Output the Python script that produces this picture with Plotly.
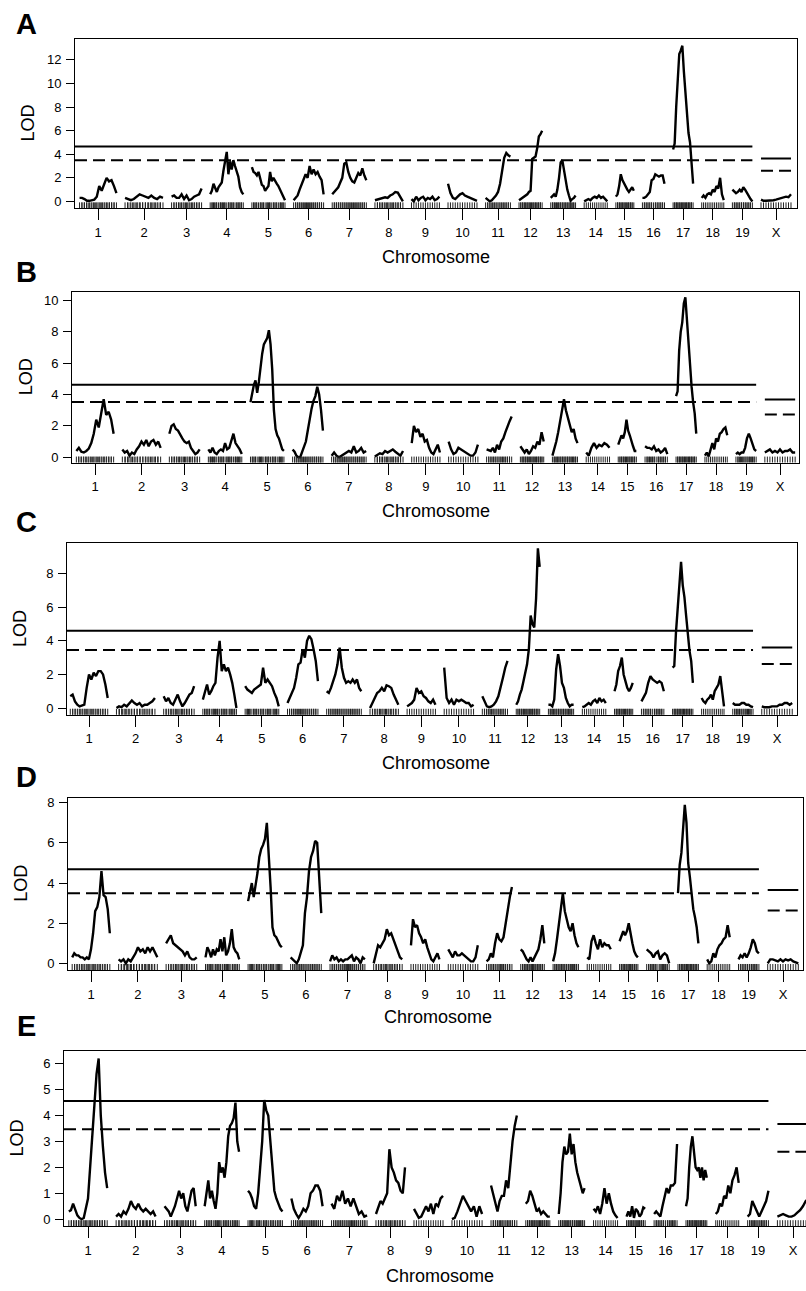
import plotly.graph_objects as go

# ---------------- data ----------------
chrom_names = ["1", "2", "3", "4", "5", "6", "7", "8", "9", "10",
               "11", "12", "13", "14", "15", "16", "17", "18", "19", "X"]
chrom_len_cM = [107, 110, 87, 96, 96, 87, 99, 81, 81, 84,
                72, 67, 72, 67, 52, 64, 58, 64, 58, 87]
gap_cM = 25

# LOD values, evenly spaced along each chromosome (one list per chromosome)
lod_A = [
    [0.3, 0.3, 0.2, 0.05, 0.05, 0.1, 0.15, 0.4, 1.3, 0.9, 1.5, 2.0, 1.7, 1.8, 1.3, 0.7],
    [0.3, 0.2, 0.1, 0.2, 0.4, 0.6, 0.5, 0.4, 0.3, 0.5, 0.3, 0.2, 0.4, 0.3],
    [0.4, 0.5, 0.3, 0.3, 0.6, 0.2, 0.5, 0.1, 0.2, 0.4, 0.5, 0.6, 1.1],
    [0.6, 0.9, 1.5, 1.2, 0.8, 1.2, 1.4, 1.6, 2.6, 3.3, 4.2, 2.3, 3.4, 2.7, 3.5, 3.0, 2.6, 2.1, 1.2, 0.8, 0.6],
    [2.9, 2.5, 2.4, 2.2, 2.5, 1.9, 1.4, 1.3, 0.9, 1.1, 1.3, 2.5, 1.7, 2.0, 1.7, 1.5, 1.3, 1.0, 0.6, 0.3, 0.1],
    [0.1, 0.3, 0.5, 1.0, 1.4, 1.8, 2.3, 2.0, 3.0, 2.3, 2.7, 2.3, 2.5, 2.1, 1.8, 0.6],
    [0.6, 0.8, 1.0, 1.2, 1.6, 2.0, 3.2, 3.3, 2.5, 2.0, 1.7, 1.6, 2.0, 2.4, 2.2, 2.8, 2.2, 1.8],
    [0.1, 0.15, 0.2, 0.3, 0.35, 0.3, 0.5, 0.6, 0.8, 0.75, 0.4, 0.0],
    [0.2, 0.0, 0.4, 0.1, 0.3, 0.4, 0.1, 0.3, 0.2, 0.4, 0.1, 0.2, 0.4],
    [1.5, 0.7, 0.3, 0.2, 0.4, 0.6, 0.7, 0.5, 0.4, 0.3, 0.2, 0.1, 0.05],
    [0.3, 0.15, 0.0, 0.1, 0.3, 0.5, 0.8, 1.5, 2.6, 3.7, 4.1, 3.9, 3.8],
    [0.1, 0.2, 0.3, 0.45, 0.5, 0.6, 0.8, 0.9, 3.6, 3.7, 3.8, 4.5, 5.5, 5.7, 6.0],
    [0.3, 0.5, 0.6, 0.4, 1.0, 2.0, 3.3, 3.5, 2.6, 1.5, 1.0, 0.5, 0.05, 0.2, 0.3, 0.5],
    [0.0, 0.1, 0.2, 0.1, 0.3, 0.4, 0.3, 0.5, 0.3, 0.4, 0.2, 0.0],
    [0.4, 0.6, 1.3, 2.3, 1.8, 1.5, 1.2, 1.0, 0.8, 1.0, 1.2, 0.9],
    [0.3, 0.3, 0.4, 0.6, 0.8, 1.8, 1.9, 2.3, 2.2, 2.1, 2.2, 2.2, 1.5],
    [4.4, 4.9, 8.0, 10.5, 12.5, 12.8, 13.2, 11.0, 9.0, 7.2, 5.8, 5.0, 3.5, 1.5],
    [0.3, 0.5, 0.3, 0.6, 0.7, 0.6, 1.0, 0.8, 1.3, 1.1, 2.0, 0.6, 0.1],
    [1.0, 0.8, 0.7, 0.8, 1.0, 0.8, 1.2, 1.0, 0.7, 0.4, 0.2, 0.0],
    [0.15, 0.05, 0.05, 0.05, 0.1, 0.1, 0.15, 0.2, 0.25, 0.3, 0.4, 0.35, 0.6],
]
lod_B = [
    [0.4, 0.6, 0.35, 0.3, 0.4, 0.55, 0.9, 1.5, 2.4, 1.9, 2.8, 3.7, 2.7, 2.9, 2.4, 1.5],
    [0.5, 0.3, 0.4, 0.1, 0.3, 0.2, 0.5, 0.7, 1.0, 0.8, 1.1, 0.7, 1.0, 1.1, 0.8, 1.0, 0.6],
    [1.5, 2.0, 2.1, 1.8, 1.7, 1.4, 1.2, 1.0, 0.9, 1.0, 0.6, 0.4, 0.2, 0.3, 0.5],
    [0.5, 0.3, 0.6, 0.3, 0.2, 0.4, 0.5, 0.4, 0.9, 0.5, 0.6, 1.0, 1.5, 0.9, 0.7, 0.5, 0.2],
    [3.5, 4.2, 4.6, 4.9, 4.1, 4.8, 5.8, 6.6, 7.2, 7.4, 7.6, 8.1, 7.2, 5.6, 3.0, 1.8, 1.4, 1.2, 0.8, 0.5, 0.4],
    [0.5, 0.35, 0.1, 0.0, 0.0, 0.3, 0.6, 1.0, 1.7, 2.5, 3.1, 3.6, 3.9, 4.5, 4.0, 3.0, 1.7],
    [0.1, 0.3, 0.1, 0.0, 0.1, 0.2, 0.3, 0.4, 0.3, 0.7, 0.3, 0.4, 0.6, 0.3, 0.4],
    [0.05, 0.15, 0.25, 0.2, 0.4, 0.3, 0.4, 0.5, 0.35, 0.2, 0.1, 0.4],
    [0.9, 2.0, 1.6, 1.8, 1.3, 1.5, 1.0, 1.1, 0.6, 0.3, 0.2, 0.5, 0.8, 0.3],
    [1.0, 0.5, 0.2, 0.3, 0.6, 0.5, 0.4, 0.3, 0.2, 0.1, 0.1, 0.3, 0.8],
    [0.5, 0.45, 0.4, 0.6, 0.3, 0.8, 0.5, 1.0, 1.2, 1.6, 2.0, 2.3, 2.6],
    [0.7, 0.5, 0.3, 0.5, 0.2, 0.4, 0.7, 0.6, 1.0, 0.8, 1.6, 1.0],
    [0.1, 0.5, 1.0, 1.6, 2.3, 3.0, 3.7, 3.0, 2.5, 2.0, 1.6, 1.8, 1.2, 0.9],
    [0.3, 0.1, 0.6, 0.9, 0.6, 0.8, 0.7, 0.9, 0.8, 0.6],
    [0.8, 1.1, 1.4, 1.2, 1.6, 2.4, 1.7, 1.4, 1.0, 0.7, 0.4, 0.4],
    [0.7, 0.6, 0.6, 0.5, 0.7, 0.4, 0.5, 0.3, 0.4, 0.6, 0.2],
    [3.9, 4.2, 6.8, 8.0, 8.6, 9.8, 10.2, 8.6, 7.3, 6.0, 4.5, 3.5, 2.8, 1.5],
    [0.1, 0.3, 0.05, 0.5, 0.9, 0.5, 1.2, 1.0, 1.5, 1.6, 1.8, 1.9, 1.4],
    [0.2, 0.3, 0.2, 0.3, 0.3, 0.6, 1.2, 1.5, 1.2, 0.8, 0.5, 0.4],
    [0.3, 0.4, 0.5, 0.3, 0.4, 0.3, 0.5, 0.3, 0.4, 0.4, 0.5, 0.3, 0.3],
]
lod_C = [
    [0.7, 0.8, 0.4, 0.2, 0.1, 0.15, 0.2, 1.2, 2.0, 1.7, 2.1, 1.9, 2.2, 2.2, 2.0, 1.4, 0.6],
    [0.0, 0.1, 0.05, 0.2, 0.1, 0.3, 0.45, 0.3, 0.2, 0.3, 0.1, 0.2, 0.2, 0.3, 0.4, 0.6],
    [0.7, 0.4, 0.6, 0.3, 0.2, 0.5, 0.8, 0.4, 0.1, 0.3, 0.6, 0.8, 0.9, 1.3],
    [0.5, 1.0, 1.4, 0.8, 1.0, 1.3, 1.5, 3.0, 4.0, 2.2, 2.6, 2.2, 2.4, 2.0, 1.5, 0.8, 0.0],
    [1.3, 1.1, 1.0, 0.9, 1.1, 1.2, 1.3, 1.4, 2.4, 1.5, 1.7, 1.5, 1.3, 0.9, 0.6, 0.1],
    [0.3, 0.6, 0.8, 1.2, 1.8, 2.6, 2.7, 3.5, 3.0, 4.0, 4.3, 4.1, 3.5, 2.8, 1.6],
    [1.0, 0.9, 1.2, 1.6, 2.0, 2.6, 3.6, 2.4, 1.8, 1.5, 1.6, 1.5, 1.7, 1.5, 1.7, 1.2, 1.0],
    [0.0, 0.3, 0.6, 0.9, 1.0, 1.2, 1.0, 1.35, 1.3, 1.2, 0.8, 0.5, 0.2],
    [0.1, 0.2, 0.3, 0.5, 1.2, 0.9, 1.0, 0.7, 0.6, 0.4, 0.3, 0.5, 0.2],
    [2.4, 0.6, 0.3, 0.5, 0.2, 0.5, 0.4, 0.5, 0.4, 0.3, 0.3, 0.1, 0.2],
    [0.7, 0.4, 0.1, 0.05, 0.1, 0.2, 0.4, 0.7, 1.2, 1.8, 2.4, 2.8],
    [0.2, 0.4, 0.8, 1.1, 1.6, 2.2, 2.6, 3.5, 5.5, 5.0, 4.8, 6.5, 9.5, 8.4],
    [0.2, 0.2, 0.1, 0.5, 2.3, 3.2, 2.5, 1.5, 1.2, 0.6, 0.3, 0.1, 0.2, 0.2],
    [0.05, 0.1, 0.2, 0.3, 0.2, 0.4, 0.5, 0.3, 0.6, 0.4, 0.5, 0.3],
    [1.0, 1.4, 2.2, 2.5, 3.0, 2.0, 1.6, 1.2, 1.0, 1.2, 1.5],
    [0.4, 0.7, 0.9, 1.5, 1.9, 1.7, 1.6, 1.5, 1.6, 1.5, 1.0],
    [2.4, 2.5, 4.5, 6.0, 7.0, 8.7, 7.3, 6.6, 5.5, 4.3, 3.4, 2.8, 1.5],
    [0.6, 0.4, 0.3, 0.5, 0.6, 0.8, 0.5, 1.0, 1.2, 1.4, 1.9, 0.8, 0.1],
    [0.3, 0.2, 0.2, 0.2, 0.3, 0.3, 0.2, 0.2, 0.1, 0.05],
    [0.1, 0.05, 0.05, 0.05, 0.1, 0.1, 0.1, 0.2, 0.2, 0.3, 0.3, 0.2, 0.3],
]
lod_D = [
    [0.3, 0.5, 0.4, 0.4, 0.3, 0.3, 0.2, 0.3, 0.2, 0.7, 1.5, 2.6, 2.8, 3.3, 4.6, 3.4, 3.3, 2.7, 1.5],
    [0.2, 0.1, 0.2, 0.0, 0.2, 0.1, 0.3, 0.5, 0.8, 0.6, 0.7, 0.5, 0.8, 0.6, 0.8, 0.5, 0.3],
    [1.0, 1.2, 1.4, 1.0, 0.9, 0.8, 0.7, 0.6, 0.4, 0.6, 0.3, 0.2, 0.2, 0.3],
    [0.3, 0.8, 0.6, 0.3, 0.7, 0.4, 0.7, 0.6, 1.2, 0.6, 1.3, 0.4, 0.6, 1.0, 1.7, 0.8, 0.6, 0.5, 0.2],
    [3.1, 3.5, 4.0, 3.3, 3.8, 4.5, 5.3, 5.7, 5.9, 6.2, 7.0, 5.5, 3.8, 1.8, 1.4, 1.3, 1.1, 0.9, 0.8],
    [0.3, 0.2, 0.1, 0.0, 0.2, 0.6, 0.9, 2.5, 3.3, 4.6, 5.3, 5.6, 6.1, 6.0, 4.5, 2.5],
    [0.1, 0.4, 0.2, 0.3, 0.1, 0.2, 0.1, 0.2, 0.2, 0.3, 0.4, 0.1, 0.3, 0.2, 0.0, 0.3, 0.2],
    [0.0, 0.5, 0.9, 0.8, 1.0, 1.2, 1.7, 1.4, 1.5, 1.2, 0.9, 0.5, 0.3, 0.2],
    [0.9, 2.2, 1.8, 1.9, 1.5, 1.3, 1.0, 1.2, 0.8, 0.5, 0.2, 0.1, 0.3, 0.5, 0.2],
    [0.7, 0.5, 0.3, 0.6, 0.4, 0.4, 0.5, 0.4, 0.3, 0.2, 0.1, 0.1, 0.3, 0.9],
    [0.1, 0.2, 0.5, 0.3, 1.0, 1.5, 1.2, 1.1, 1.3, 2.0, 2.8, 3.3, 3.8],
    [0.7, 0.6, 0.4, 0.2, 0.1, 0.3, 0.1, 0.3, 0.5, 0.7, 1.2, 1.9, 1.0],
    [0.1, 0.5, 1.2, 2.0, 2.6, 3.5, 2.6, 2.2, 1.8, 1.6, 2.0, 1.4, 1.0, 0.8],
    [0.3, 0.2, 1.1, 1.4, 1.0, 0.7, 1.2, 0.8, 1.0, 0.9, 0.9, 0.7],
    [1.1, 1.4, 1.6, 1.4, 1.6, 2.0, 1.4, 1.0, 0.6, 0.4, 0.3],
    [0.7, 0.6, 0.5, 0.3, 0.5, 0.6, 0.2, 0.4, 0.5, 0.4, 0.0],
    [3.5, 4.9, 5.5, 6.5, 7.9, 7.0, 5.0, 4.3, 3.5, 2.7, 2.3, 1.8, 1.0],
    [0.2, 0.0, 0.1, 0.5, 0.3, 0.7, 0.9, 1.0, 1.2, 1.3, 1.9, 1.3],
    [0.2, 0.4, 0.3, 0.5, 0.3, 0.5, 0.8, 1.2, 1.0, 0.6, 0.5],
    [0.0, 0.2, 0.2, 0.15, 0.1, 0.2, 0.1, 0.2, 0.15, 0.2, 0.1, 0.05, 0.0],
]
lod_E = [
    [0.3, 0.35, 0.6, 0.4, 0.15, 0.05, 0.0, 0.05, 0.5, 0.8, 2.0, 3.2, 4.3, 5.6, 6.2, 4.0, 2.8, 1.8, 1.2],
    [0.1, 0.2, 0.1, 0.3, 0.2, 0.4, 0.7, 0.5, 0.4, 0.6, 0.4, 0.3, 0.4, 0.3, 0.2, 0.3, 0.1],
    [0.5, 0.4, 0.3, 0.1, 0.3, 0.5, 0.8, 1.1, 0.8, 1.0, 0.5, 0.3, 0.7, 1.1, 1.2, 0.5],
    [0.5, 1.0, 1.5, 0.8, 1.1, 0.7, 0.4, 1.0, 2.2, 1.8, 2.0, 1.6, 2.2, 3.2, 3.6, 3.7, 3.9, 4.5, 3.0, 2.6],
    [1.1, 1.0, 0.8, 0.5, 0.4, 1.0, 2.0, 3.0, 4.6, 4.2, 4.0, 3.0, 2.0, 1.1, 0.8, 0.6, 0.4, 0.3],
    [0.8, 0.4, 0.2, 0.05, 0.2, 0.4, 0.3, 0.5, 1.0, 1.1, 1.3, 1.3, 1.1, 0.5],
    [0.6, 0.4, 0.9, 0.7, 1.1, 0.6, 0.8, 0.5, 0.8, 0.5, 0.2, 0.3, 0.1, 0.15],
    [0.2, 0.5, 0.7, 0.6, 0.8, 1.0, 2.7, 2.0, 1.8, 1.5, 1.4, 1.1, 1.0, 2.0],
    [0.4, 0.2, 0.05, 0.1, 0.3, 0.5, 0.3, 0.6, 0.2, 0.6, 0.5, 0.8, 0.9],
    [0.0, 0.05, 0.3, 0.6, 0.9, 0.7, 0.5, 0.3, 0.5, 0.1, 0.5, 0.2],
    [1.3, 1.0, 0.7, 0.3, 0.7, 0.9, 0.9, 1.5, 1.2, 2.2, 3.0, 3.6, 4.0],
    [0.6, 0.7, 1.1, 0.9, 0.6, 0.3, 0.4, 0.2, 0.3, 0.2, 0.1, 0.1],
    [0.2, 1.0, 2.2, 2.8, 2.5, 2.6, 3.3, 2.5, 2.9, 2.2, 1.8, 1.5, 1.3, 1.0, 1.2],
    [0.4, 0.3, 0.5, 0.2, 0.6, 1.2, 0.6, 1.0, 0.6, 0.3, 0.15, 0.05],
    [0.1, 0.3, 0.1, 0.5, 0.05, 0.4, 0.3, 0.1, 0.2, 0.45, 0.4],
    [0.2, 0.3, 0.2, 0.1, 0.5, 0.8, 1.2, 1.0, 1.3, 1.3, 1.4, 2.9],
    [0.5, 0.8, 2.0, 2.8, 3.2, 2.5, 2.0, 1.9, 2.0, 1.6, 2.0, 1.5, 1.9, 1.6],
    [0.2, 0.3, 0.6, 0.5, 0.9, 0.8, 1.3, 1.0, 1.5, 1.7, 2.0, 1.4],
    [0.1, 0.2, 0.7, 0.5, 0.3, 0.1, 0.3, 0.5, 0.7, 1.1],
    [0.1, 0.15, 0.2, 0.15, 0.1, 0.1, 0.15, 0.25, 0.35, 0.5, 0.7, 0.8],
]

panel_labels = ["A", "B", "C", "D", "E"]
thr_auto_solid = [4.65, 4.63, 4.6, 4.69, 4.56]
thr_auto_dash = [3.5, 3.53, 3.46, 3.49, 3.47]
thr_x_solid = [3.63, 3.68, 3.61, 3.66, 3.67]
thr_x_dash = [2.6, 2.72, 2.62, 2.63, 2.6]
y_ticks = [[0, 2, 4, 6, 8, 10, 12], [0, 2, 4, 6, 8, 10], [0, 2, 4, 6, 8],
           [0, 2, 4, 6, 8], [0, 1, 2, 3, 4, 5, 6]]
y_ranges = [(-0.59, 13.78), (-0.34, 10.53), (-0.40, 9.80), (-0.33, 8.26), (-0.27, 6.50)]

# ---------------- layout geometry (pixels) ----------------
W, H = 806, 1291
# left, right(visible), top, bottom, chr1 tick px, chrX tick px
geom = [
    (75, 797, 37, 207, 98, 776),
    (72, 799, 291, 462, 95, 780),
    (67, 797, 543, 715, 89, 777),
    (68, 803, 798, 971, 91, 783),
    (64, 806, 1052, 1228, 88, 793),
]
letter_pos = [(27, 22), (27, 271), (27, 522), (27, 777), (26, 1027)]
lod_title_x = [28, 26, 20, 21, 17]
chrom_title_y = [256, 511, 763, 1018, 1278]
chrom_title_x = [436, 436, 436, 438, 440]

FONT = "Liberation Sans, Arial, Helvetica, sans-serif"

starts = []
s = 0.0
for L in chrom_len_cM:
    starts.append(s)
    s += L + gap_cM
mids = [st + L / 2 for st, L in zip(starts, chrom_len_cM)]

all_lods = [lod_A, lod_B, lod_C, lod_D, lod_E]

# marker rug: union of scan positions of two scans
rug_x = []
for c in range(len(chrom_names)):
    pos = set()
    for lods in (lod_A, lod_C):
        n = len(lods[c])
        for k in range(n):
            pos.add(round(starts[c] + chrom_len_cM[c] * k / (n - 1), 1))
    rug_x.extend(sorted(pos))

fig = go.Figure()
annotations = []
layout_axes = {}

for i, lods in enumerate(all_lods):
    n = i + 1
    xa = "x" if n == 1 else f"x{n}"
    ya = "y" if n == 1 else f"y{n}"
    left, right, top, bottom, t1, tX = geom[i]
    scale = (tX - t1) / (mids[-1] - mids[0])
    x0 = mids[0] - (t1 - left) / scale
    x1 = mids[0] + (right - t1) / scale
    y0, y1 = y_ranges[i]
    ppu = (bottom - top) / (y1 - y0)

    # LOD curves
    xs, ys = [], []
    for c, vals in enumerate(lods):
        m = len(vals)
        for k, v in enumerate(vals):
            xs.append(starts[c] + chrom_len_cM[c] * k / (m - 1))
            ys.append(v)
        xs.append(None)
        ys.append(None)
    fig.add_trace(go.Scatter(x=xs, y=ys, mode="lines", xaxis=xa, yaxis=ya,
                             line=dict(color="black", width=2.4), hoverinfo="skip"))

    # thresholds
    end19 = starts[18] + chrom_len_cM[18]
    xs_x = [starts[19], starts[19] + chrom_len_cM[19]]
    fig.add_trace(go.Scatter(x=[x0, end19], y=[thr_auto_solid[i]] * 2, mode="lines",
                             xaxis=xa, yaxis=ya, line=dict(color="black", width=2)))
    fig.add_trace(go.Scatter(x=[x0, end19], y=[thr_auto_dash[i]] * 2, mode="lines",
                             xaxis=xa, yaxis=ya,
                             line=dict(color="black", width=2, dash="12px,6px")))
    fig.add_trace(go.Scatter(x=xs_x, y=[thr_x_solid[i]] * 2, mode="lines",
                             xaxis=xa, yaxis=ya, line=dict(color="black", width=2)))
    fig.add_trace(go.Scatter(x=xs_x, y=[thr_x_dash[i]] * 2, mode="lines",
                             xaxis=xa, yaxis=ya,
                             line=dict(color="black", width=2, dash="12px,6px")))

    # rug
    rug_y = y0 + 2.5 / ppu
    fig.add_trace(go.Scatter(x=rug_x, y=[rug_y] * len(rug_x), mode="markers",
                             xaxis=xa, yaxis=ya,
                             marker=dict(symbol="line-ns", size=5,
                                         line=dict(color="#222222", width=1))))

    layout_axes["xaxis" if n == 1 else f"xaxis{n}"] = dict(
        domain=[left / W, right / W], range=[x0, x1], anchor=ya,
        showline=True, linecolor="black", linewidth=1, mirror=True,
        ticks="outside", ticklen=11, tickwidth=1, tickcolor="black",
        tickvals=mids, ticktext=chrom_names, showgrid=False, zeroline=False,
        tickfont=dict(family=FONT, size=13, color="black"), ticklabelstandoff=1)
    layout_axes["yaxis" if n == 1 else f"yaxis{n}"] = dict(
        domain=[1 - bottom / H, 1 - top / H], range=[y0, y1], anchor=xa,
        showline=True, linecolor="black", linewidth=1, mirror=(i < 4),
        ticks="outside", ticklen=8, tickwidth=1, tickcolor="black",
        tickvals=y_ticks[i], showgrid=False, zeroline=False,
        tickfont=dict(family=FONT, size=13, color="black"), ticklabelstandoff=2)

    lx, ly = letter_pos[i]
    annotations.append(dict(text=f"<b>{panel_labels[i]}</b>", x=lx / W, y=1 - ly / H,
                            xref="paper", yref="paper", showarrow=False,
                            xanchor="center", yanchor="middle",
                            font=dict(family=FONT, size=29, color="black")))
    annotations.append(dict(text="LOD", x=lod_title_x[i] / W, y=1 - (top + bottom) / 2 / H,
                            xref="paper", yref="paper", showarrow=False, textangle=-90,
                            xanchor="center", yanchor="middle",
                            font=dict(family=FONT, size=18, color="black")))
    annotations.append(dict(text="Chromosome", x=chrom_title_x[i] / W,
                            y=1 - chrom_title_y[i] / H,
                            xref="paper", yref="paper", showarrow=False,
                            xanchor="center", yanchor="middle",
                            font=dict(family=FONT, size=18, color="black")))

fig.update_layout(width=W, height=H, margin=dict(l=0, r=0, t=0, b=0),
                  paper_bgcolor="white", plot_bgcolor="white", showlegend=False,
                  annotations=annotations, **layout_axes)

fig.write_html("out.html", config={"displayModeBar": False},
               post_script="document.body.style.margin='0';document.body.style.overflow='hidden';")
